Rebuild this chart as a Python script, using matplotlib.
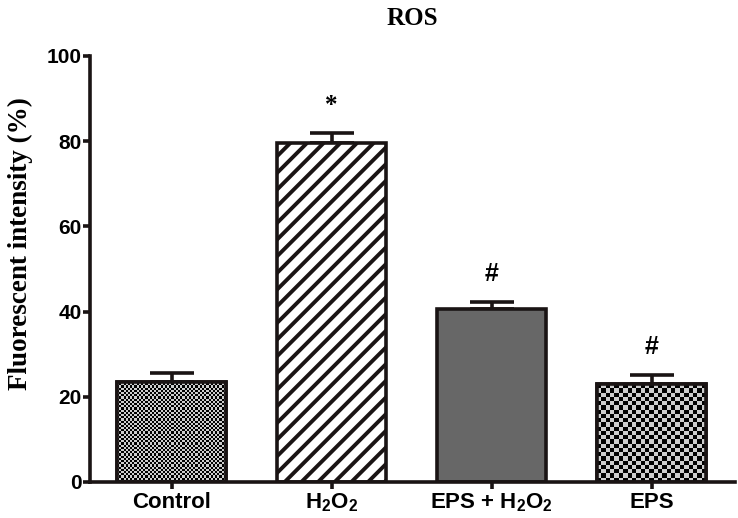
import numpy as np
import matplotlib
matplotlib.use("Agg")
import matplotlib.pyplot as plt

categories = ["Control", "H$_2$O$_2$", "EPS + H$_2$O$_2$", "EPS"]
values = [23.5, 79.5, 40.5, 23.0]
errors = [2.1, 2.4, 1.8, 2.1]
marks = ["", "*", "#", "#"]
yticks = [0, 20, 40, 60, 80, 100]

plt.rcParams['mathtext.fontset'] = 'custom'
plt.rcParams['mathtext.rm'] = 'Liberation Sans:bold'
plt.rcParams['mathtext.it'] = 'Liberation Sans:bold'
plt.rcParams['mathtext.bf'] = 'Liberation Sans:bold'
plt.rcParams['hatch.linewidth'] = 2.8

fig = plt.figure(figsize=(7.38, 5.18), dpi=100)
ax = fig.add_axes([0.122, 0.0695, 0.874, 0.8225])

x = np.arange(len(categories))
width = 0.68
ec = "#1a1414"
lw = 2.6

styles = [
    dict(facecolor="white", hatch=None),
    dict(facecolor="white", hatch="//"),
    dict(facecolor="#676767", hatch=None),
    dict(facecolor="white", hatch=None),
]
checker_cells = {0: 2.2, 3: 4.4}  # checker cell size (pixels)

bars = []
for i in range(len(categories)):
    b = ax.bar(x[i], values[i], width=width, facecolor=styles[i]["facecolor"],
               hatch=styles[i]["hatch"], edgecolor=ec, linewidth=lw, zorder=2)
    bars.append(b[0])

ax.set_xlim(-0.51, 3.52)
ax.set_ylim(0, 100)
fig.canvas.draw()

# checkered fills
for i, cell in checker_cells.items():
    r = bars[i]
    x0, x1 = r.get_x(), r.get_x() + r.get_width()
    y0, y1 = 0, values[i]
    p0 = ax.transData.transform((x0, y0))
    p1 = ax.transData.transform((x1, y1))
    nx = int(abs(p1[0] - p0[0]) / cell) + 1
    ny = int(abs(p1[1] - p0[1]) / cell) + 1
    ii, jj = np.indices((ny, nx))
    pat = ((ii + jj) % 2).astype(float)
    im = ax.imshow(pat, cmap="gray", vmin=0, vmax=1.25, extent=(x0, x1, y0, y1),
                   aspect="auto", interpolation="nearest", zorder=2.5)
    im.set_clip_path(r)
    r2 = plt.Rectangle((x0, y0), x1 - x0, y1 - y0, facecolor="none",
                       edgecolor=ec, linewidth=lw, zorder=3)
    ax.add_patch(r2)

# error bars (upper only)
ax.errorbar(x, values, yerr=[np.zeros(len(values)), errors], fmt="none",
            ecolor=ec, elinewidth=2.6, capsize=16, capthick=2.6, zorder=1)

for i, m in enumerate(marks):
    if m:
        ax.text(x[i], values[i] + errors[i] + 6.5, m, ha="center", va="center",
                fontsize=18, fontweight="bold",
                family="Liberation Sans" if m == "#" else "Liberation Serif")

ax.set_xlim(-0.51, 3.52)
ax.set_ylim(0, 100)
ax.set_yticks(yticks)
ax.set_xticks(x)
ax.set_xticklabels(categories)
for s in ["top", "right"]:
    ax.spines[s].set_visible(False)
for s in ["left", "bottom"]:
    ax.spines[s].set_linewidth(2.6)
    ax.spines[s].set_color(ec)
ax.tick_params(axis="both", width=2.6, length=5, color=ec)
ax.tick_params(axis="y", pad=1, labelsize=15)
ax.tick_params(axis="x", pad=2, labelsize=16)
for lab in ax.get_xticklabels() + ax.get_yticklabels():
    lab.set_family("Liberation Sans")
    lab.set_fontweight("bold")

ax.set_ylabel("Fluorescent intensity (%)", family="Liberation Serif",
              fontweight="bold", fontsize=19.5, va="center")
ax.yaxis.set_label_coords(-0.108, 0.56)
ax.set_title("ROS", family="Liberation Serif", fontweight="bold", fontsize=18, pad=22)

fig.savefig("out.png", dpi=100)
